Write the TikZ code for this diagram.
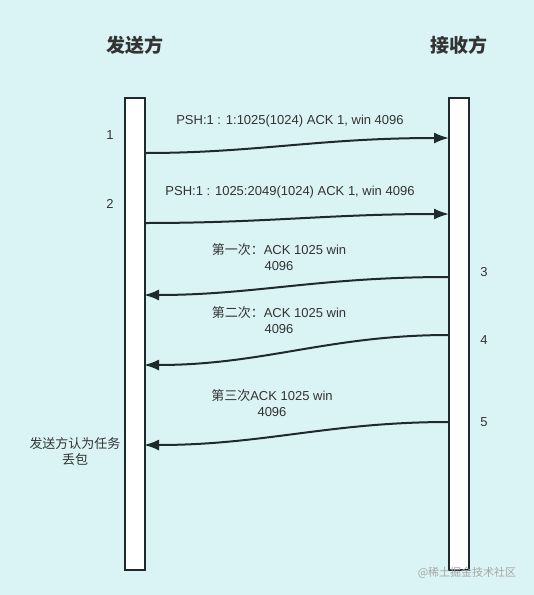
\documentclass[tikz,border=0pt]{standalone}
\usepackage{fontspec}
\setmainfont{Liberation Sans}
\newfontfamily\cjk{Noto Sans CJK SC}
\usetikzlibrary{arrows.meta}
\definecolor{bgcyan}{HTML}{DAF4F5}
\definecolor{ink}{HTML}{1E2A2B}
\definecolor{txt}{HTML}{333333}

\begin{document}
\begin{tikzpicture}[x=1pt,y=-1pt,
    lifeline/.style={draw=ink,fill=white,line width=2.4pt,minimum width=20pt,minimum height=472pt,inner sep=0pt},
    msg/.style={draw=ink,line width=2pt,-{Latex[length=15pt,width=11pt]}},
    lbl/.style={text=txt,font=\fontsize{13}{16}\selectfont,align=center,inner sep=0pt},
    title/.style={text=txt,font=\cjk\bfseries\fontsize{19}{22}\selectfont,inner sep=0pt}]
       \useasboundingbox[fill=bgcyan] (0,0) rectangle (534,595);

       %sender and receiver
       \node[title] (sndtitle) at (135,45) {发送方};
       \node[title] (rcvtitle) at (459,45) {接收方};
       \node[lifeline] (snd) at (135,334) {};
       \node[lifeline] (rcv) at (459,334) {};

       %ends of the messages
       \coordinate (s1) at (145,153);
       \coordinate (r1) at (449,138);
       \coordinate (s2) at (145,223);
       \coordinate (r2) at (449,214);
       \coordinate (r3) at (449,277);
       \coordinate (s3) at (144,295);
       \coordinate (r4) at (449,335);
       \coordinate (s4) at (144,365);
       \coordinate (r5) at (449,422);
       \coordinate (s5) at (144,445);

       %messages
       \draw[msg] (s1) .. controls +(110,0) and +(-130,0) .. (r1);
       \draw[msg] (s2) .. controls +(120,0) and +(-120,0) .. (r2);
       \draw[msg] (r3) .. controls +(-130,0) and +(110,0) .. (s3);
       \draw[msg] (r4) .. controls +(-120,0) and +(120,0) .. (s4);
       \draw[msg] (r5) .. controls +(-120,0) and +(120,0) .. (s5);

       %labels
       \node[lbl] (m1) at (290,121) {PSH:1 : 1:1025(1024) ACK 1, win 4096};
       \node[lbl] (m2) at (290,192) {PSH:1 : 1025:2049(1024) ACK 1, win 4096};
       \node[lbl] (m3) at (279,257) {{\cjk 第一次：}ACK 1025 win\\4096};
       \node[lbl] (m4) at (279,320.5) {{\cjk 第二次：}ACK 1025 win\\4096};
       \node[lbl] (m5) at (272,403) {{\cjk 第三次}ACK 1025 win\\4096};
       \node[lbl,font=\cjk\fontsize{13}{16}\selectfont] (lost) at (75,451) {发送方认为任务\\丢包};

       %step numbers
       \node[lbl] (n1) at (110,135) {1};
       \node[lbl] (n2) at (110,204) {2};
       \node[lbl] (n3) at (484,272) {3};
       \node[lbl] (n4) at (484,340) {4};
       \node[lbl] (n5) at (484,422) {5};

       \node[lbl,text=black!35,font=\cjk\fontsize{11}{13}\selectfont] (mark) at (467,573) {@稀土掘金技术社区};
\end{tikzpicture}
\end{document}
